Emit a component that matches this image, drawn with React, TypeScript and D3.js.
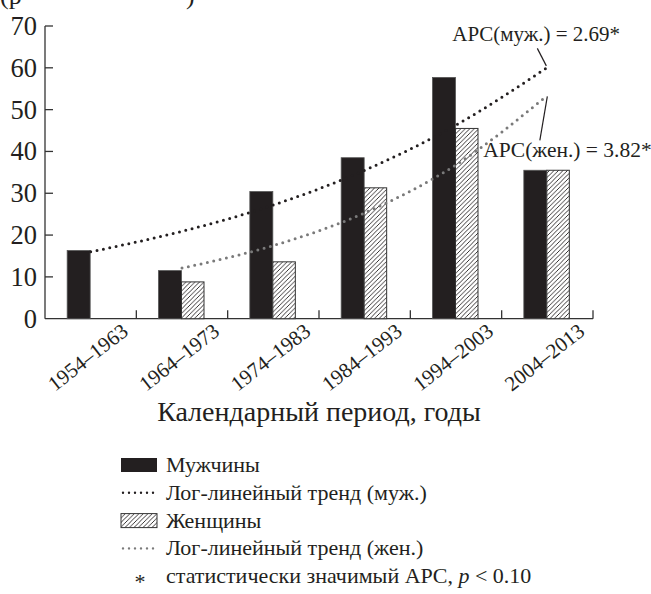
import React from "react";
import * as d3 from "d3";

// Periods and values
const periods = ["1954–1963", "1964–1973", "1974–1983", "1984–1993", "1994–2003", "2004–2013"];
const men = [16.3, 11.5, 30.4, 38.5, 57.7, 35.5];
const women: (number | null)[] = [null, 8.8, 13.6, 31.3, 45.5, 35.5];
// log-linear trend values at the period centres
const menTrend = [16.0, 20.9, 27.2, 35.5, 46.3, 60.1];
const womenTrend: (number | null)[] = [null, 12.1, 17.5, 25.3, 36.8, 53.4];
const yTicks = [0, 10, 20, 30, 40, 50, 60, 70];

const legendItems = [
  { kind: "men", label: "Мужчины" },
  { kind: "menTrend", label: "Лог-линейный тренд (муж.)" },
  { kind: "women", label: "Женщины" },
  { kind: "womenTrend", label: "Лог-линейный тренд (жен.)" },
  { kind: "star", label: "статистически значимый APC, " },
];

const W = 651;
const H = 594;
const left = 45, right = 593, top = 26, bottom = 318.7;
const font = "'Liberation Serif', 'DejaVu Serif', serif";
const dark = "#231f20";
const grey = "#7a7a7a";
const axisColor = "#333";

export default function App() {
  const x = d3.scaleBand<string>().domain(periods).range([left, right]);
  const y = d3.scaleLinear().domain([0, 70]).range([bottom, top]);
  const bw = x.bandwidth();
  const barW = 23;
  const cx = (i: number) => (x(periods[i]) as number) + bw / 2;

  const trendLine = d3
    .line<number | null>()
    .defined((d) => d != null)
    .x((_, i) => cx(i))
    .y((d) => y(d as number))
    .curve(d3.curveMonotoneX);

  const mEnd = { x: cx(5), y: y(menTrend[5]) };
  const wEnd = { x: cx(5), y: y(womenTrend[5] as number) };

  const legendX = 121;
  const legendY0 = 465;
  const legendStep = 27.8;

  return (
    <svg width={W} height={H} style={{ position: "absolute", left: 0, top: 0 }} fontFamily={font}>
      <defs>
        <pattern id="hatch" patternUnits="userSpaceOnUse" width={4.5} height={4.5}>
          <rect width={4.5} height={4.5} fill="#fff" />
          <path d="M-1,1 l2,-2 M0,4.5 l4.5,-4.5 M3.5,5.5 l2,-2" stroke={dark} strokeWidth={0.9} />
        </pattern>
      </defs>

      {/* cut-off title fragment at the top */}
      <text x={0} y={4} fontSize={26} fill={dark}>(р</text>
      <text x={186} y={4} fontSize={26} fill={dark}>)</text>

      {/* y axis */}
      <line x1={left} x2={left} y1={y(70)} y2={bottom} stroke={axisColor} strokeWidth={1.3} />
      {yTicks.map((t) => (
        <g key={t}>
          {t > 0 && <line x1={left} x2={left + 8} y1={y(t)} y2={y(t)} stroke={axisColor} strokeWidth={1.3} />}
          <text x={37} y={y(t)} dy="0.34em" textAnchor="end" fontSize={26.5} fill={dark}>
            {t}
          </text>
        </g>
      ))}

      {/* x axis */}
      <line x1={left} x2={right} y1={bottom} y2={bottom} stroke={axisColor} strokeWidth={1.3} />
      {periods.map((p) => {
        const xr = (x(p) as number) + bw;
        return <line key={p} x1={xr} x2={xr} y1={bottom} y2={bottom - 8.5} stroke={axisColor} strokeWidth={1.3} />;
      })}
      {periods.map((p, i) => (
        <text
          key={p}
          transform={`translate(${cx(i) - 3},${357}) rotate(-38)`}
          textAnchor="middle"
          dy="0.35em"
          fontSize={21}
          fill={dark}
        >
          {p}
        </text>
      ))}
      <text x={(left + right) / 2} y={421} textAnchor="middle" fontSize={28} fill={dark}>
        Календарный период, годы
      </text>

      {/* bars */}
      {men.map((v, i) => (
        <rect
          key={"m" + i}
          x={cx(i) - barW - 0.5}
          y={y(v)}
          width={barW}
          height={bottom - y(v)}
          fill={dark}
          stroke="#555"
          strokeWidth={0.8}
        />
      ))}
      {women.map((v, i) =>
        v == null ? null : (
          <rect
            key={"w" + i}
            x={cx(i) - 0.5}
            y={y(v)}
            width={barW - 0.5}
            height={bottom - y(v)}
            fill="url(#hatch)"
            stroke={axisColor}
            strokeWidth={1}
          />
        )
      )}

      {/* trends */}
      <path d={trendLine(menTrend) || ""} fill="none" stroke={dark} strokeWidth={3} strokeDasharray="0 6.5" strokeLinecap="round" />
      <path d={trendLine(womenTrend) || ""} fill="none" stroke={grey} strokeWidth={3} strokeDasharray="0 6.5" strokeLinecap="round" />

      {/* annotations */}
      <line x1={mEnd.x - 10} y1={mEnd.y - 19} x2={mEnd.x - 1} y2={mEnd.y - 1.5} stroke={dark} strokeWidth={1.2} />
      <text x={mEnd.x - 95} y={mEnd.y - 26} fontSize={21} fill={dark}>
        APC(муж.) = 2.69*
      </text>
      <line x1={wEnd.x - 7.5} y1={wEnd.y + 45} x2={wEnd.x} y2={wEnd.y + 1} stroke={dark} strokeWidth={1.2} />
      <text x={wEnd.x - 64} y={wEnd.y + 62} fontSize={21.5} fill={dark}>
        APC(жен.) = 3.82*
      </text>

      {/* legend */}
      {legendItems.map((it, i) => {
        const cy = legendY0 + i * legendStep;
        return (
          <g key={it.kind}>
            {it.kind === "men" && <rect x={legendX} y={cy - 7} width={36} height={14} fill={dark} />}
            {it.kind === "women" && (
              <rect x={legendX} y={cy - 7} width={36} height={14} fill="url(#hatch)" stroke={axisColor} strokeWidth={1} />
            )}
            {(it.kind === "menTrend" || it.kind === "womenTrend") && (
              <line
                x1={legendX + 2}
                x2={legendX + 36}
                y1={cy}
                y2={cy}
                stroke={it.kind === "menTrend" ? dark : grey}
                strokeWidth={2.4}
                strokeDasharray="0 6"
                strokeLinecap="round"
              />
            )}
            {it.kind === "star" && (
              <text x={legendX + 19} y={cy + 13} textAnchor="middle" fontSize={22} fill={dark}>
                *
              </text>
            )}
            <text x={166} y={cy + 7} fontSize={22} fill={dark}>
              {it.label}
              {it.kind === "star" && (
                <>
                  <tspan fontStyle="italic">p</tspan> &lt; 0.10
                </>
              )}
            </text>
          </g>
        );
      })}
    </svg>
  );
}
